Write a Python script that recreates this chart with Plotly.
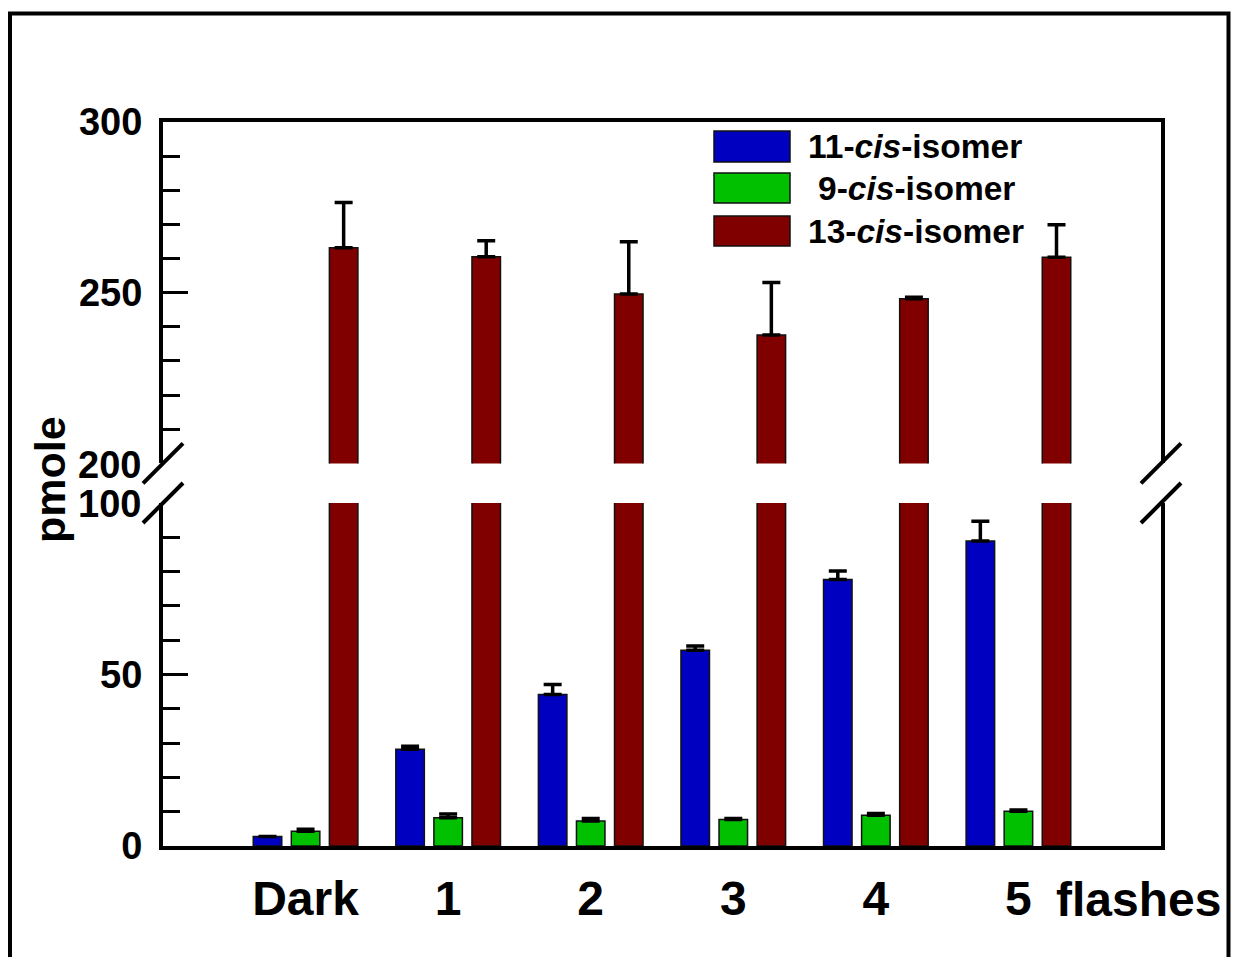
import plotly.graph_objects as go

# Retinal isomer content after a series of flashes (pmole, mean + SE)
categories = ["Dark", "1", "2", "3", "4", "5"]
cis11 = [2.8, 28.2, 44.2, 57.1, 77.7, 88.9]
cis11_err = [0.0, 0.9, 2.9, 1.2, 2.5, 5.8]
cis9 = [4.3, 8.2, 7.3, 7.7, 9.0, 10.1]
cis9_err = [0.6, 1.1, 0.7, 0.3, 0.5, 0.4]
cis13 = [263.2, 260.5, 249.6, 237.6, 248.2, 260.4]
cis13_err = [13.2, 4.7, 15.3, 15.4, 0.5, 9.5]

series_names = ["11-<i>cis</i>-isomer", " 9-<i>cis</i>-isomer", "13-<i>cis</i>-isomer"]
colors = ["#0000C0", "#00C000", "#800000"]

lower_ticks = [0, 50]
upper_ticks = [250, 300]
lower_minor = [10, 20, 30, 40, 60, 70, 80, 90]
upper_minor = [210, 220, 230, 240, 260, 270, 280, 290]

FONT = "Liberation Sans, Arial, sans-serif"

# Figure pixel geometry of the plotting region
W, H = 1233, 957
L, R, T, B = 163, 1161, 122, 846
PW, PH = R - L, B - T


def px(xp):
    return (xp - L) / PW


def py(yp):
    return (B - yp) / PH


bar_w = 0.2
offsets = [-0.367, -0.1, 0.167]

fig = go.Figure()

err_style = dict(type="data", symmetric=False, color="black", thickness=3.5, width=9)

series = [(cis11, cis11_err), (cis9, cis9_err), (cis13, cis13_err)]
for i, (vals, errs) in enumerate(series):
    # lower panel (0-100)
    fig.add_trace(go.Bar(
        x=categories, y=vals, xaxis="x", yaxis="y",
        width=bar_w, offset=offsets[i],
        marker=dict(color=colors[i], line=dict(color="#111111", width=1.5)),
        error_y=dict(array=errs, arrayminus=[0] * len(errs), **err_style) if i < 2 else None,
        showlegend=False, hoverinfo="skip",
    ))
    # upper panel (200-300)
    if i == 2:
        fig.add_trace(go.Bar(
            x=categories, y=vals, xaxis="x2", yaxis="y2",
            width=bar_w, offset=offsets[i],
            marker=dict(color=colors[i], line=dict(color="#111111", width=1.5)),
            error_y=dict(array=errs, arrayminus=[0] * len(errs), **err_style),
            showlegend=False, hoverinfo="skip",
        ))

BREAK_UP, BREAK_LOW = 463.4, 503
low_dom = [0, py(BREAK_LOW)]
up_dom = [py(BREAK_UP), 1]

axis_line = dict(showline=True, linecolor="black", linewidth=4, showgrid=False, zeroline=False)
ytick_font = dict(family=FONT, size=38, color="black", weight="bold")

fig.update_layout(
    width=W, height=H,
    margin=dict(l=L, r=W - R, t=T, b=H - B),
    paper_bgcolor="white", plot_bgcolor="white",
    barmode="overlay",
    xaxis=dict(
        **axis_line, domain=[0, 1], anchor="y", type="category",
        range=[-1, 6], ticks="", tickfont=dict(family=FONT, size=48, color="black", weight="bold"),
        ticklabelstandoff=7,
    ),
    xaxis2=dict(
        **axis_line, domain=[0, 1], anchor="y2", type="category", matches="x",
        side="top", showticklabels=False, ticks="",
    ),
    yaxis=dict(
        **axis_line, domain=low_dom, anchor="x", range=[0, 100], mirror=True,
        tickmode="array", tickvals=lower_ticks, ticks="inside", ticklen=25, tickwidth=3,
        tickcolor="black", ticklabelstandoff=9, tickfont=ytick_font,
        minor=dict(tickmode="array", tickvals=lower_minor, ticks="inside", ticklen=17,
                   tickwidth=2.5, tickcolor="black"),
    ),
    yaxis2=dict(
        **axis_line, domain=up_dom, anchor="x2", range=[200, 300], mirror=True,
        tickmode="array", tickvals=upper_ticks, ticks="inside", ticklen=25, tickwidth=3,
        tickcolor="black", ticklabelstandoff=9, tickfont=ytick_font,
        minor=dict(tickmode="array", tickvals=upper_minor, ticks="inside", ticklen=17,
                   tickwidth=2.5, tickcolor="black"),
    ),
)

shapes = []
# outer frame
shapes.append(dict(type="rect", xref="paper", yref="paper",
                   x0=px(10), x1=px(1228.5), y0=py(965), y1=py(13.5),
                   line=dict(color="black", width=4), fillcolor="rgba(0,0,0,0)", layer="above"))

# axis break marks on both sides
for xa in (0, 1):
    for yb in (BREAK_UP, BREAK_LOW):
        shapes.append(dict(type="line", xref="paper", yref="paper",
                           xsizemode="pixel", ysizemode="pixel",
                           xanchor=xa, yanchor=py(yb),
                           x0=-20, x1=20, y0=-20, y1=20,
                           line=dict(color="black", width=4)))

# legend swatches
legend_rows = [(131, 162), (173, 203), (216, 246)]
for (ya, yb), c in zip(legend_rows, colors):
    shapes.append(dict(type="rect", xref="paper", yref="paper",
                       x0=px(714), x1=px(790), y0=py(yb), y1=py(ya),
                       fillcolor=c, line=dict(color="#111111", width=1.5)))

annotations = []
text_x = [806, 816, 806]
for (ya, yb), name, tx in zip(legend_rows, series_names, text_x):
    annotations.append(dict(text=name.strip(), xref="paper", yref="paper",
                            x=px(tx), y=py((ya + yb) / 2), xanchor="left", yanchor="middle",
                            showarrow=False,
                            font=dict(family=FONT, size=33.5, color="black", weight="bold")))

# labels at the axis break
for txt, yb in (("200", BREAK_UP + 2), ("100", BREAK_LOW + 1)):
    annotations.append(dict(text=txt, xref="paper", yref="paper", x=px(143), y=py(yb),
                            xanchor="right", yanchor="middle", showarrow=False,
                            font=ytick_font))

# axis titles
annotations.append(dict(text="pmole", xref="paper", yref="paper", x=px(50), y=py(480),
                        xanchor="center", yanchor="middle", textangle=-90, showarrow=False,
                        font=dict(family=FONT, size=43, color="black", weight="bold")))
annotations.append(dict(text="flashes", xref="paper", yref="paper", x=px(1054), y=py(899),
                        xanchor="left", yanchor="middle", showarrow=False,
                        font=dict(family=FONT, size=48, color="black", weight="bold")))

fig.update_layout(shapes=shapes, annotations=annotations)

fig.write_html("out.html")
